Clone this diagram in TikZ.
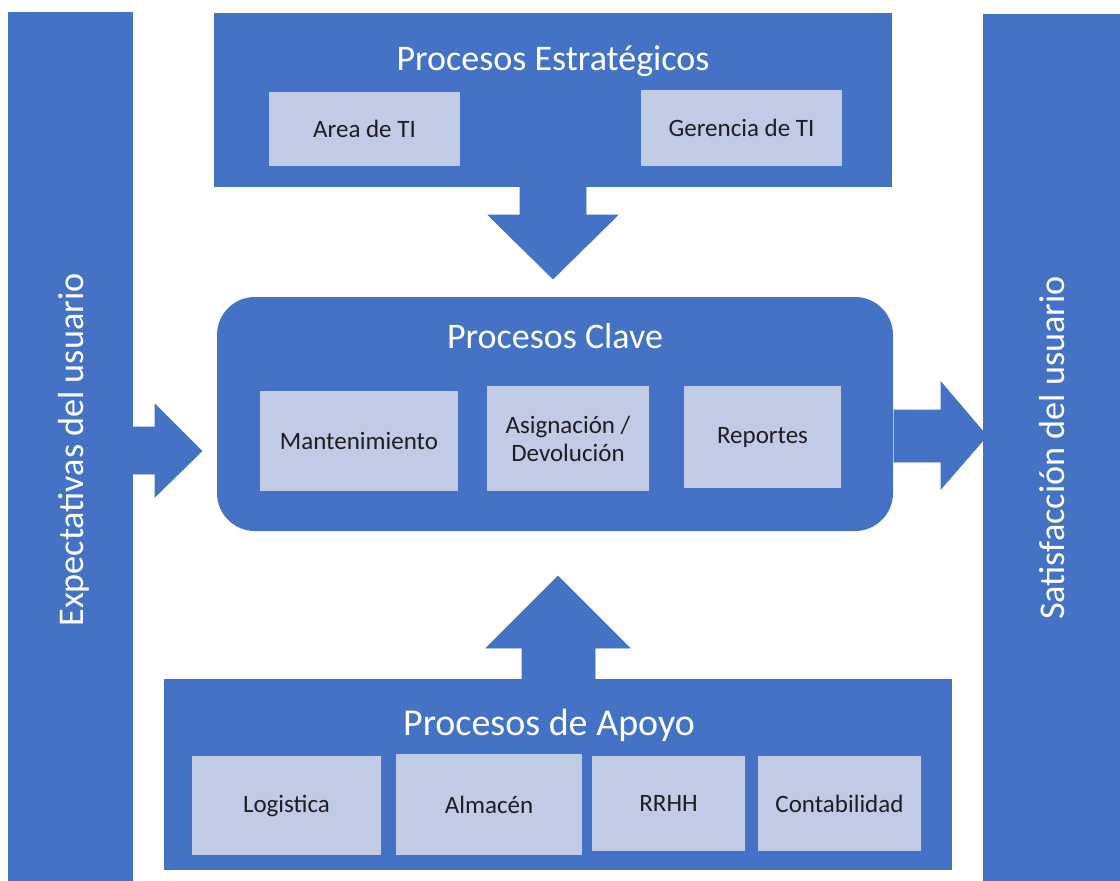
\documentclass[tikz,border=0pt]{standalone}
\usepackage{fontspec}
\setmainfont{Carlito}
\definecolor{blu}{HTML}{4472C4}
\definecolor{lite}{HTML}{C1CBE5}
\definecolor{ink}{HTML}{1E1E1E}
\begin{document}
\begin{tikzpicture}[x=1pt,y=-1pt,
  panel/.style={fill=blu, draw=none, inner sep=0pt, anchor=center},
  item/.style={fill=lite, draw=none, inner sep=0pt, anchor=center, text=ink,
    font=\fontsize{25}{28}\selectfont, align=center},
  title/.style={text=white, inner sep=0pt, anchor=base, font=\fontsize{36}{40}\selectfont},
  vtitle/.style={text=white, inner sep=0pt, anchor=base, rotate=90, font=\fontsize{36.2}{40}\selectfont},
  blockarrow/.style={fill=blu, draw=blu, line width=0.6pt, line join=miter}]
\useasboundingbox (0,0) rectangle (1120,881);
\fill[white] (0,0) rectangle (1120,881);

% side bars
\node[panel, minimum width=125, minimum height=869] (lbar) at (70.5,446.5) {};
\node[panel, minimum width=137, minimum height=867] (rbar) at (1051.5,447.5) {};
\node[vtitle] (lbartxt) at (83,450) {Expectativas del usuario};
\node[vtitle] (rbartxt) at (1064,448) {Satisfacción del usuario};

% strategic
\node[panel, minimum width=678, minimum height=174] (top) at (553,100) {};
\node[title] (toptxt) at (553,70) {Procesos Estratégicos};
\node[item, minimum width=191, minimum height=74] (area) at (364.5,129) {Area de TI};
\node[item, minimum width=201, minimum height=76] (ger) at (741.5,128) {Gerencia de TI};

% key
\node[panel, rounded corners=38pt, minimum width=676, minimum height=234] (clave) at (555,414) {};
\node[title] (clavetxt) at (555,348) {Procesos Clave};
\node[item, minimum width=198, minimum height=100] (mant) at (359,441) {Mantenimiento};
\node[item, minimum width=162, minimum height=105] (asig) at (568,438.5) {Asignación /\\Devolución};
\node[item, minimum width=157, minimum height=102] (rep) at (762.5,437) {Reportes};

% support
\node[panel, minimum width=788, minimum height=191] (bot) at (558,774.5) {};
\node[title, font=\fontsize{38}{42}\selectfont] (bottxt) at (549,735) {Procesos de Apoyo};
\node[item, minimum width=189, minimum height=99] (log) at (286.5,805.5) {Logistica};
\node[item, minimum width=186, minimum height=101] (alm) at (489,804.5) {Almacén};
\node[item, minimum width=153, minimum height=95] (rrhh) at (668.5,803.5) {RRHH};
\node[item, minimum width=163, minimum height=95] (cont) at (839.5,803.5) {Contabilidad};

% block arrows
\draw[blockarrow] (520,187) -- (520,215) -- (488,215) -- (553,279) -- (618,215) -- (586,215) -- (586,187) -- cycle;
\draw[blockarrow] (133,427) -- (155,427) -- (155,404) -- (202,451) -- (155,497) -- (155,474) -- (133,474) -- cycle;
\draw[blockarrow] (894,410) -- (941,410) -- (941,382) -- (987,436) -- (941,489) -- (941,462) -- (894,462) -- cycle;
\draw[blockarrow] (522,679) -- (522,648) -- (486,648) -- (558,576) -- (630,648) -- (595,648) -- (595,679) -- cycle;
\end{tikzpicture}
\end{document}
